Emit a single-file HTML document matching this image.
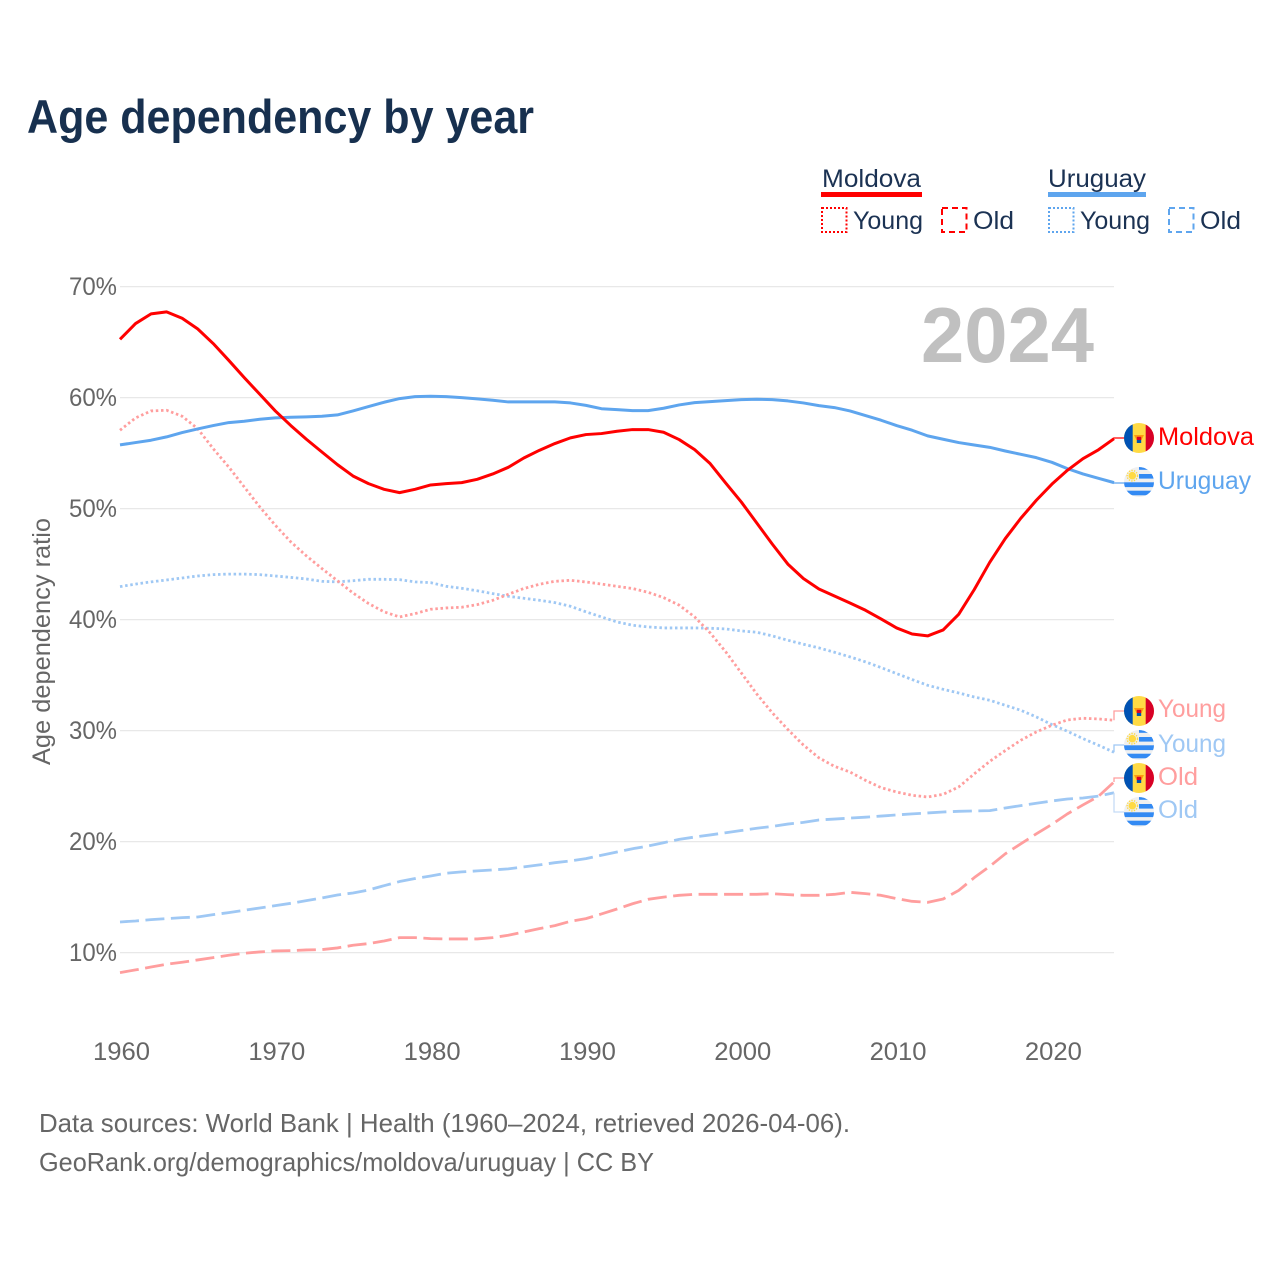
<!DOCTYPE html>
<html lang="en">
<head>
<meta charset="utf-8">
<title>Age dependency by year</title>
<style>
  html, body { margin: 0; padding: 0; background: #fff; }
  svg { display: block; font-family: "Liberation Sans", sans-serif; }
</style>
</head>
<body>
<svg id="chart" width="1280" height="1280" viewBox="0 0 1280 1280" xmlns="http://www.w3.org/2000/svg">
  <defs>
    <clipPath id="flag-clip"><circle cx="0" cy="0" r="15"></circle></clipPath>
    <g id="flag-md" clip-path="url(#flag-clip)">
      <rect x="-15" y="-15" width="30" height="30" fill="#ffda44"></rect>
      <rect x="-15" y="-15" width="8.7" height="30" fill="#0052b4"></rect>
      <rect x="6.7" y="-15" width="8.3" height="30" fill="#d80027"></rect>
      <path d="M-5 -3 L5 -3 L2.5 2 L-2.5 2 Z" fill="#ff9811"></path>
      <rect x="-2.2" y="-1.2" width="4.4" height="3.2" fill="#d80027"></rect>
      <rect x="-2.2" y="2" width="4.4" height="3" fill="#0052b4"></rect>
    </g>
    <g id="flag-uy" clip-path="url(#flag-clip)">
      <rect x="-15" y="-15" width="30" height="30" fill="#f0f0f0"></rect>
      <rect x="0" y="-15" width="15" height="2.8" fill="#338af3"></rect>
      <rect x="0" y="-8" width="15" height="4.6" fill="#338af3"></rect>
      <rect x="-15" y="0.3" width="30" height="4.8" fill="#338af3"></rect>
      <rect x="-15" y="8.7" width="30" height="4.6" fill="#338af3"></rect>
      <circle cx="-6.7" cy="-6.3" r="3.8" fill="#ffda44"></circle>
      <circle cx="-6.7" cy="-6.3" r="5.2" fill="none" stroke="#ffda44" stroke-width="1.4" stroke-dasharray="1.4 1.2"></circle>
    </g>
  </defs>

  <text x="27" y="133" font-size="47" font-weight="700" fill="#17304f" textLength="507" lengthAdjust="spacingAndGlyphs">Age dependency by year</text>

  <g id="grid"></g>
  <g id="y-axis"></g>
  <g id="x-axis"></g>

  <text transform="translate(50,641.5) rotate(-90)" text-anchor="middle" font-size="25" fill="#666666" textLength="247" lengthAdjust="spacingAndGlyphs">Age dependency ratio</text>

  <text x="921" y="362" font-size="78" font-weight="700" fill="#c0c0c0" textLength="173" lengthAdjust="spacingAndGlyphs">2024</text>

  <g id="series"></g>
  <g id="leaders"></g>

  <g>
    <use href="#flag-md" x="1139" y="438"></use>
    <text x="1158" y="445" font-size="25" fill="#ff0000" textLength="96" lengthAdjust="spacingAndGlyphs">Moldova</text>
    <use href="#flag-uy" x="1139" y="482"></use>
    <text x="1158" y="489" font-size="25" fill="#5ea5ee" textLength="93" lengthAdjust="spacingAndGlyphs">Uruguay</text>
    <use href="#flag-md" x="1139" y="711"></use>
    <text x="1158" y="717" font-size="25" fill="#ff9e9e" textLength="68" lengthAdjust="spacingAndGlyphs">Young</text>
    <use href="#flag-uy" x="1139" y="745"></use>
    <text x="1158" y="752" font-size="25" fill="#9fc8f4" textLength="68" lengthAdjust="spacingAndGlyphs">Young</text>
    <use href="#flag-md" x="1139" y="778"></use>
    <text x="1158" y="785" font-size="25" fill="#ff9e9e" textLength="40" lengthAdjust="spacingAndGlyphs">Old</text>
    <use href="#flag-uy" x="1139" y="812"></use>
    <text x="1158" y="818" font-size="25" fill="#9fc8f4" textLength="40" lengthAdjust="spacingAndGlyphs">Old</text>
  </g>

  <g font-size="25" fill="#1b3253">
    <text x="822" y="187" textLength="99" lengthAdjust="spacingAndGlyphs">Moldova</text>
    <rect x="821" y="192" width="101" height="5" fill="#ff0000"></rect>
    <rect x="822" y="208" width="24.5" height="24" fill="none" stroke="#ff0000" stroke-width="2" stroke-dasharray="2 2"></rect>
    <text x="853" y="229" textLength="70" lengthAdjust="spacingAndGlyphs">Young</text>
    <rect x="942" y="208" width="24.5" height="24" fill="none" stroke="#ff0000" stroke-width="2" stroke-dasharray="6 4"></rect>
    <text x="973" y="229" textLength="41" lengthAdjust="spacingAndGlyphs">Old</text>

    <text x="1048" y="187" textLength="98" lengthAdjust="spacingAndGlyphs">Uruguay</text>
    <rect x="1048" y="192" width="98" height="5" fill="#5ea5ee"></rect>
    <rect x="1049" y="208" width="24.5" height="24" fill="none" stroke="#5ea5ee" stroke-width="2" stroke-dasharray="2 2"></rect>
    <text x="1080" y="229" textLength="70" lengthAdjust="spacingAndGlyphs">Young</text>
    <rect x="1169" y="208" width="24.5" height="24" fill="none" stroke="#5ea5ee" stroke-width="2" stroke-dasharray="6 4"></rect>
    <text x="1200" y="229" textLength="41" lengthAdjust="spacingAndGlyphs">Old</text>
  </g>

  <g font-size="26" fill="#666666">
    <text x="39" y="1132" textLength="811" lengthAdjust="spacingAndGlyphs">Data sources: World Bank | Health (1960–2024, retrieved 2026-04-06).</text>
    <text x="39" y="1171" textLength="615" lengthAdjust="spacingAndGlyphs">GeoRank.org/demographics/moldova/uruguay | CC BY</text>
  </g>

<script>
const years = [1960,1961,1962,1963,1964,1965,1966,1967,1968,1969,1970,1971,1972,1973,1974,1975,1976,1977,1978,1979,1980,1981,1982,1983,1984,1985,1986,1987,1988,1989,1990,1991,1992,1993,1994,1995,1996,1997,1998,1999,2000,2001,2002,2003,2004,2005,2006,2007,2008,2009,2010,2011,2012,2013,2014,2015,2016,2017,2018,2019,2020,2021,2022,2023,2024];
const yTicks = [10,20,30,40,50,60,70];
const xTicks = [1960,1970,1980,1990,2000,2010,2020];
const moldovaTotal = [65.25,66.67,67.54,67.72,67.15,66.19,64.87,63.36,61.8,60.3,58.8,57.48,56.25,55.1,53.96,52.94,52.25,51.74,51.44,51.74,52.13,52.25,
  52.34,52.64,53.12,53.72,54.56,55.25,55.86,56.37,56.67,56.76,56.97,57.12,57.12,56.88,56.22,55.31,54.05,52.3,50.6,48.7,
  46.8,45.0,43.7,42.76,42.13,41.5,40.84,40.06,39.25,38.7,38.53,39.07,40.48,42.7,45.16,47.3,49.13,50.75,52.2,53.45,54.5,55.3,56.3];
const uruguayTotal = [55.74,55.95,56.16,56.46,56.85,57.18,57.48,57.75,57.87,58.05,58.17,58.23,58.26,58.32,58.44,58.8,59.19,59.58,59.91,60.09,60.12,60.09,
  60,59.88,59.76,59.61,59.61,59.61,59.61,59.52,59.3,59,58.92,58.83,58.83,59.04,59.34,59.55,59.64,59.73,59.82,59.85,
  59.82,59.7,59.52,59.28,59.1,58.8,58.38,57.96,57.48,57.06,56.55,56.25,55.95,55.73,55.52,55.19,54.89,54.59,54.17,53.6,53.12,52.73,52.34];
const moldovaYoung = [57.06,58.17,58.8,58.86,58.32,57.2,55.4,53.75,51.95,50.15,48.5,47,45.74,44.6,43.5,42.4,41.45,40.7,40.24,40.54,40.93,41.05,
  41.11,41.35,41.74,42.28,42.8,43.18,43.45,43.54,43.39,43.2,43,42.8,42.46,41.98,41.3,40.24,38.8,37.1,35.2,33.3,
  31.6,30.1,28.7,27.55,26.78,26.27,25.52,24.86,24.47,24.17,24.02,24.26,24.92,26.1,27.23,28.2,29.13,29.88,30.48,30.96,31.11,31.05,30.93];
const uruguayYoung = [42.97,43.2,43.4,43.57,43.75,43.93,44.05,44.1,44.1,44.05,43.93,43.8,43.66,43.45,43.4,43.5,43.63,43.63,43.6,43.4,43.33,43,
  42.82,42.6,42.34,42.1,41.92,41.74,41.53,41.2,40.7,40.24,39.79,39.49,39.34,39.25,39.25,39.25,39.22,39.16,38.98,38.86,
  38.53,38.14,37.78,37.45,37.06,36.64,36.19,35.68,35.14,34.6,34.08,33.72,33.39,33.03,32.73,32.28,31.83,31.23,30.54,29.94,29.28,28.68,28.05];
const moldovaOld = [8.2,8.44,8.7,8.95,9.13,9.34,9.55,9.76,9.94,10.06,10.15,10.18,10.24,10.27,10.42,10.66,10.81,11.05,11.35,11.35,11.26,11.23,
  11.23,11.23,11.35,11.56,11.86,12.16,12.43,12.82,13.06,13.48,13.93,14.4,14.8,15,15.16,15.25,15.25,15.25,15.25,15.25,
  15.31,15.22,15.16,15.16,15.25,15.43,15.31,15.16,14.86,14.62,14.53,14.83,15.6,16.75,17.77,18.9,19.8,20.7,21.55,22.5,23.3,24.08,25.37];
const uruguayOld = [12.76,12.85,12.97,13.06,13.15,13.21,13.42,13.6,13.81,14.02,14.23,14.44,14.68,14.92,15.19,15.37,15.64,16.03,16.4,16.67,16.9,17.15,
  17.27,17.36,17.45,17.54,17.72,17.9,18.1,18.26,18.47,18.77,19.06,19.36,19.6,19.9,20.2,20.41,20.6,20.8,21,21.2,
  21.37,21.58,21.73,21.95,22.03,22.12,22.2,22.3,22.4,22.5,22.58,22.67,22.73,22.76,22.79,23.03,23.24,23.45,23.66,23.84,23.93,24.1,24.4];

const NS = 'http://www.w3.org/2000/svg';
function xScale(year) { return 120 + (year - 1960) * (994 / 64); }
function yScale(v) { return 286.6 + (70 - v) * 11.1; }
function make(tag, attrs, parent) {
  const el = document.createElementNS(NS, tag);
  for (const k in attrs) el.setAttribute(k, attrs[k]);
  parent.appendChild(el);
  return el;
}

const gridG = document.getElementById('grid');
const yG = document.getElementById('y-axis');
const xG = document.getElementById('x-axis');
const seriesG = document.getElementById('series');
const leadersG = document.getElementById('leaders');

yTicks.forEach(function (t) {
  const line = make('line', { x1: 120, x2: 1114, y1: yScale(t), y2: yScale(t), stroke: '#e8e8e8', 'stroke-width': 1.2 }, gridG);
  
  
  const label = make('text', { x: 117, y: yScale(t) + 8.5, 'text-anchor': 'end', 'font-size': 25, fill: '#666666', textLength: 48, lengthAdjust: 'spacingAndGlyphs' }, yG);
  
  
  label.textContent = t + '%';
});

xTicks.forEach(function (t) {
  const label = make('text', { x: xScale(t) + 1.5, y: 1060, 'text-anchor': 'middle', 'font-size': 25, fill: '#666666', textLength: 57, lengthAdjust: 'spacingAndGlyphs' }, xG);
  
  
  label.textContent = t;
});

function linePath(values) {
  return values.map(function (v, i) {
    return (i ? 'L' : 'M') + xScale(years[i]).toFixed(2) + ' ' + yScale(v).toFixed(2);
  }).join(' ');
}

function drawSeries(values, color, width, dash, name) {
  const attrs = { d: linePath(values), fill: 'none', stroke: color, 'stroke-width': width, 'stroke-linejoin': 'round' };
  if (dash) attrs['stroke-dasharray'] = dash;
  const p = make('path', attrs, seriesG);
  
  
}

function drawLeader(values, labelY, color, name) {
  const x0 = xScale(years[years.length - 1]);
  const y0 = yScale(values[values.length - 1]);
  const p = make('path', { d: 'M' + x0 + ' ' + y0 + ' L' + x0 + ' ' + labelY + ' L1124 ' + labelY, fill: 'none', stroke: color, 'stroke-width': 1.3 }, leadersG);
  
  
}

drawSeries(uruguayOld, '#9fc8f4', 2.8, '19 6.5', 'line-uruguay-old');
drawSeries(moldovaOld, '#ff9e9e', 2.8, '19 6.5', 'line-moldova-old');
drawSeries(uruguayYoung, '#9fc8f4', 2.8, '2.5 2.7', 'line-uruguay-young');
drawSeries(moldovaYoung, '#ff9e9e', 2.8, '2.5 2.7', 'line-moldova-young');
drawSeries(uruguayTotal, '#5ea5ee', 3, null, 'line-uruguay-total');
drawSeries(moldovaTotal, '#ff0000', 3, null, 'line-moldova-total');

drawLeader(moldovaTotal, 438, '#ff0000', 'leader-moldova-total');
drawLeader(uruguayTotal, 483, '#5ea5ee', 'leader-uruguay-total');
drawLeader(moldovaYoung, 711, '#ff9e9e', 'leader-moldova-young');
drawLeader(uruguayYoung, 745, '#9fc8f4', 'leader-uruguay-young');
drawLeader(moldovaOld, 778, '#ff9e9e', 'leader-moldova-old');
drawLeader(uruguayOld, 812, '#c5dcf6', 'leader-uruguay-old');
</script>
</svg>
</body>
</html>
